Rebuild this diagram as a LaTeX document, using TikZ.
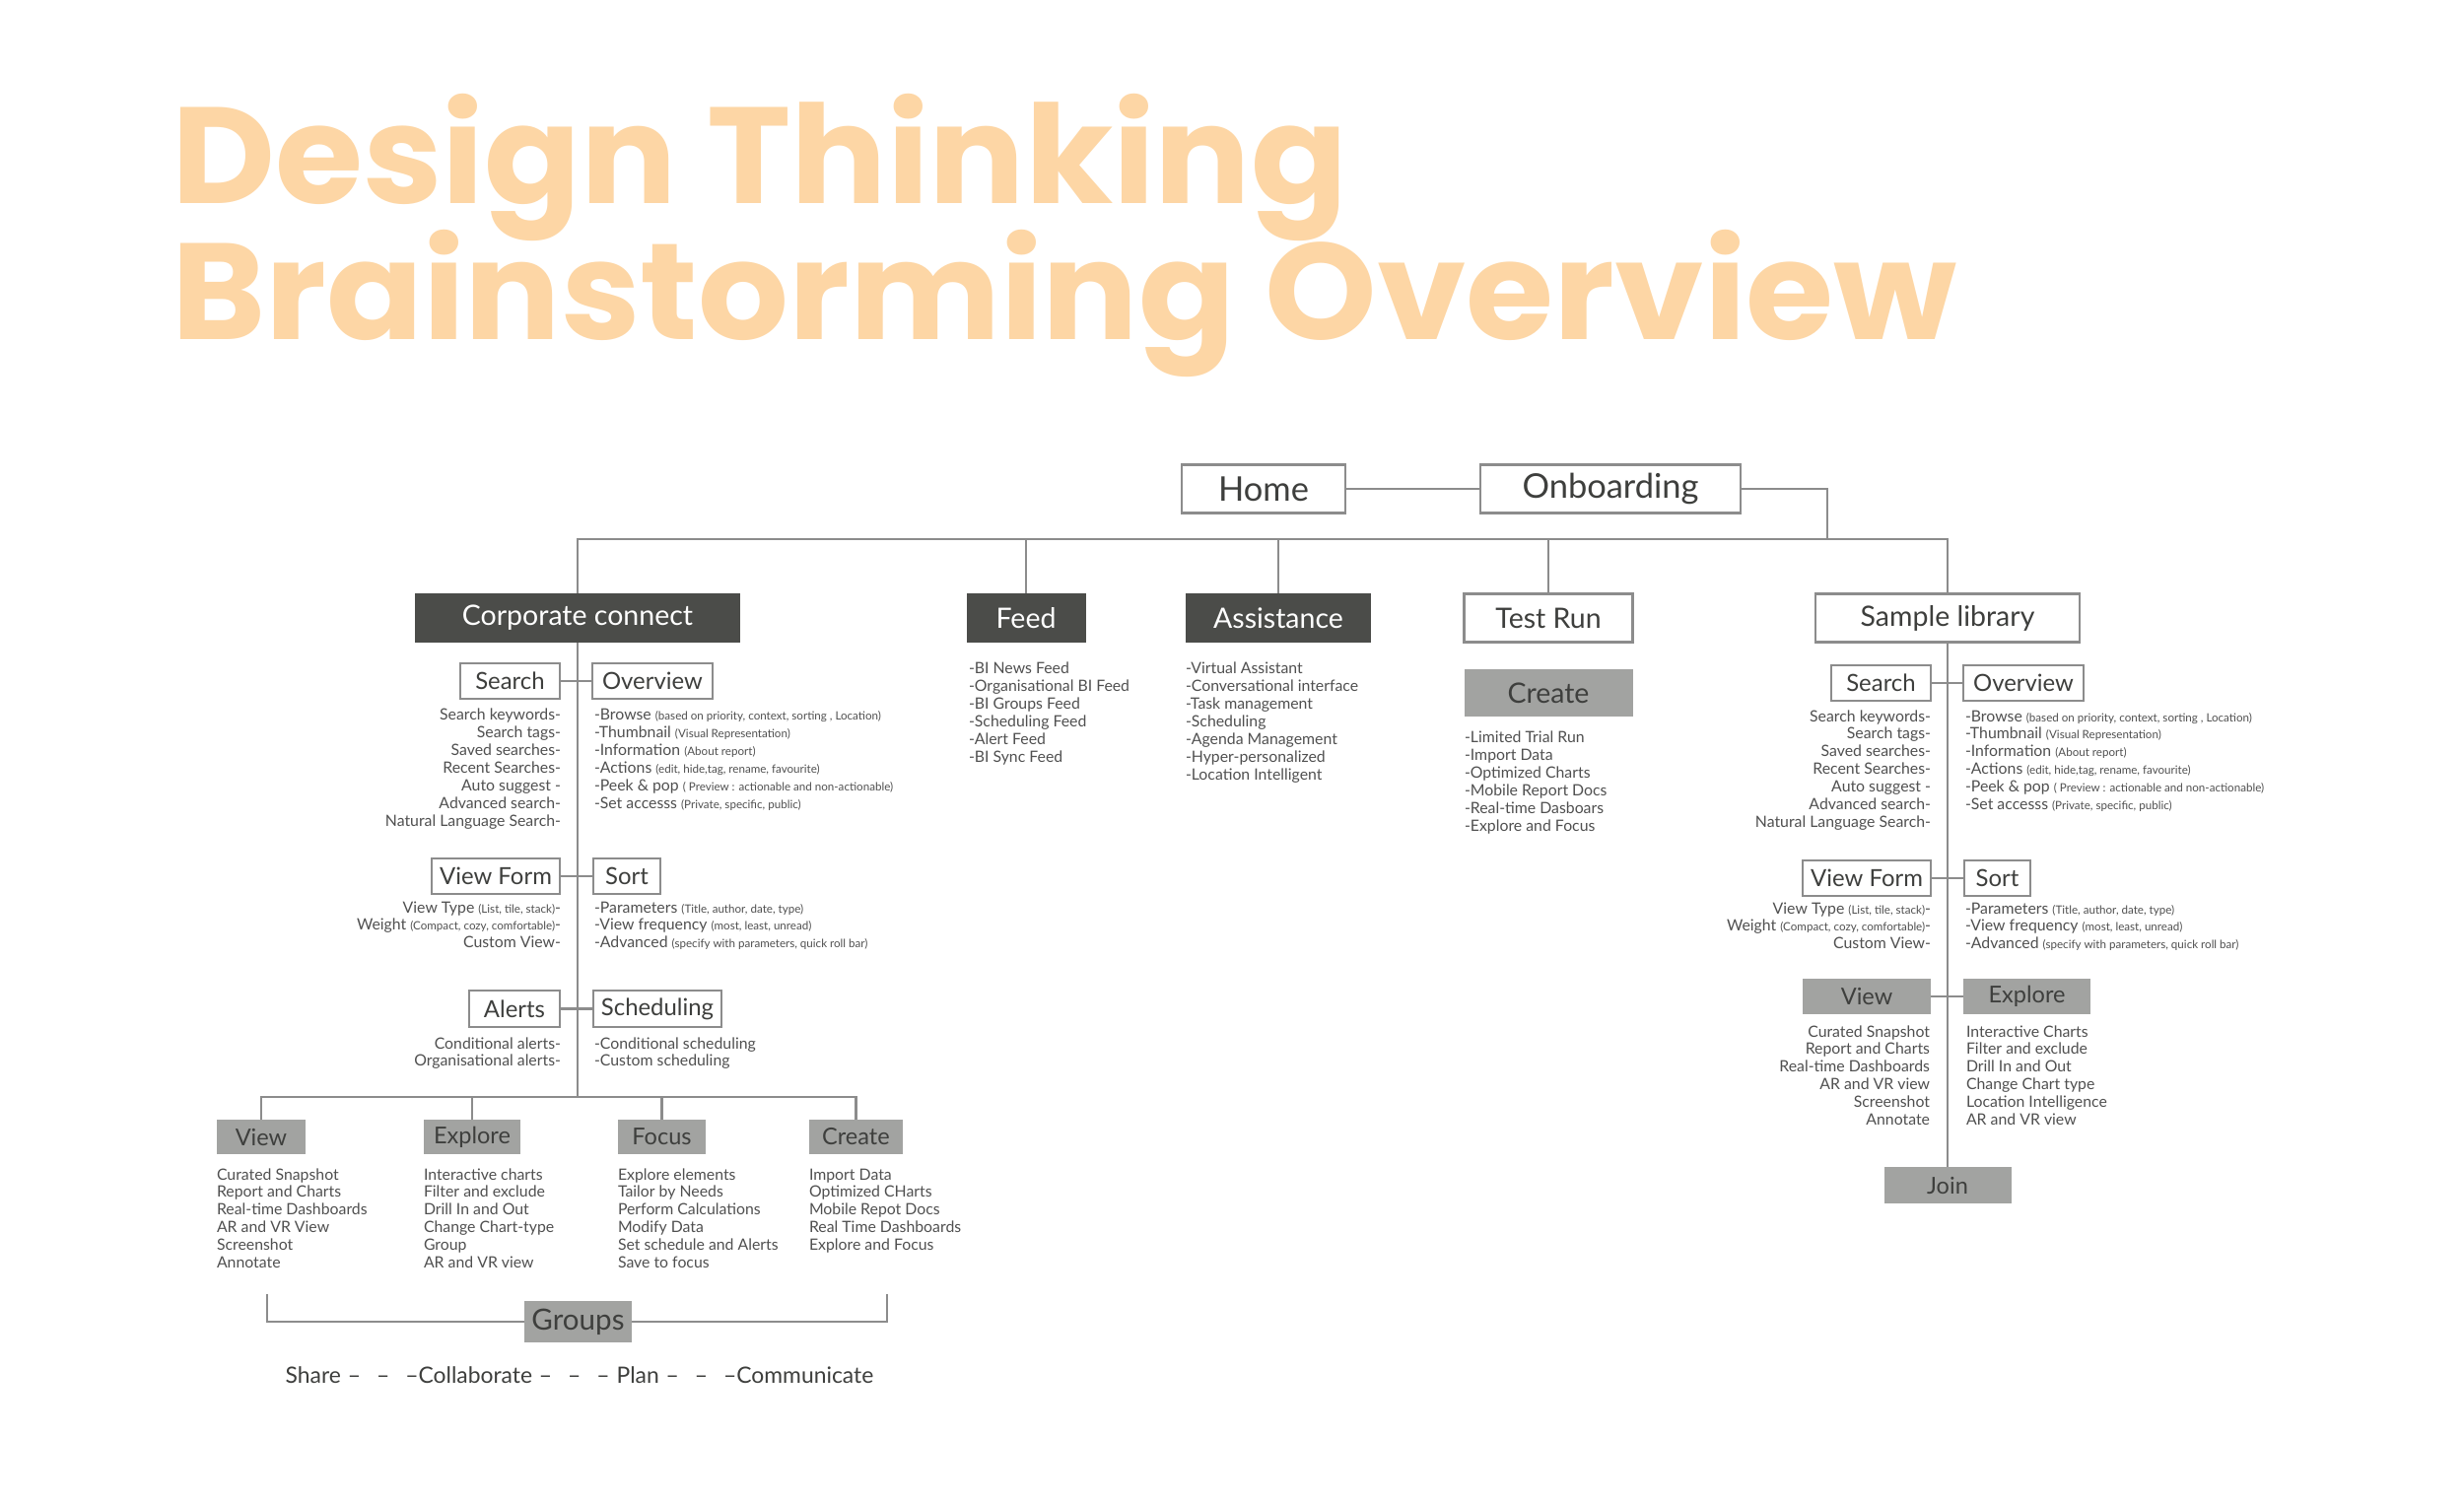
\documentclass[tikz,border=0pt]{standalone}
\usepackage{fontspec}
\setmainfont{Lato}
\newfontfamily\titlefont{Poppins}[FakeStretch=1.04]
\definecolor{titlec}{HTML}{FDD6A5}
\definecolor{darkf}{HTML}{4B4C49}
\definecolor{grayf}{HTML}{A2A3A1}
\definecolor{linec}{HTML}{8C8C8C}
\definecolor{labc}{HTML}{3E3F3D}
\definecolor{lstc}{HTML}{505050}
\newcommand\sm[1]{{\fontsize{3.3}{4}\selectfont #1}}
\newcommand\ddash{\hskip0.3em–\hskip0.7em–\hskip0.7em–}
\newcommand\lstlines[5]{%
  \foreach \t [count=\i from 0] in {#5} {%
    \node[lst, anchor=base #2] (#1-\i) at (#3, {#4+\i*17.85}) {\t};}}
\tikzset{
  every node/.style={inner sep=0pt, outer sep=0pt},
  ln/.style={draw=linec, line width=0.6pt},
  sz/.style 2 args={minimum width=#1*0.01cm, minimum height=#2*0.01cm},
  wbox/.style={draw=linec, line width=0.6pt, fill=white, text=labc},
  dbox/.style={fill=darkf, text=white},
  gbox/.style={fill=grayf, text=labc},
  fA/.style={font=\fontsize{9.8}{11}\selectfont},
  fB/.style={font=\fontsize{8.1}{9}\selectfont},
  fC/.style={font=\fontsize{6.8}{8}\selectfont},
  fD/.style={font=\fontsize{6.7}{8}\selectfont},
  lst/.style={font=\fontsize{4.5}{5}\selectfont, text=lstc},
  ttl/.style={font=\titlefont\bfseries\fontsize{39.5}{40}\selectfont, text=titlec, anchor=base west},
}
\begin{document}
\begin{tikzpicture}[x=0.01cm, y=-0.01cm]
\useasboundingbox[fill=white] (0,0) rectangle (2500,1528);

% title
\node[ttl] (t1) at (174,207) {Design Thinking};
\node[ttl] (t2) at (174,345) {Brainstorming Overview};

% top row
\node[wbox, fA, sz={166}{49}] (home) at (1282,496) {Home};
\node[wbox, fA, sz={264}{49}] (onb) at (1634,496) {Onboarding};
\coordinate (busL) at (586,547);
\coordinate (busR) at (1976,547);
\coordinate (onbdrop) at (1854,547);

% categories
\node[dbox, fB, sz={330}{50}] (cc) at (586,627) {Corporate connect};
\node[dbox, fB, sz={121}{50}] (feed) at (1041,627) {Feed};
\node[dbox, fB, sz={188}{50}] (asst) at (1297,627) {Assistance};
\node[wbox, fB, sz={171}{49}] (tr) at (1571,627) {Test Run};
\node[wbox, fB, sz={268}{49}] (sl) at (1976,627) {Sample library};
\node[gbox, fB, sz={171}{48}] (trc) at (1571,703) {Create};

\draw[ln] (home.east) -- (onb.west);
\draw[ln] (onb.east) -| (onbdrop);
\draw[ln] (cc.north) |- (busR) -- (sl.north);
\draw[ln] (feed.north) -- (feed.north |- busL);
\draw[ln] (asst.north) -- (asst.north |- busL);
\draw[ln] (tr.north) -- (tr.north |- busL);

\lstlines{feedl}{west}{983}{684}{-BI News Feed, -Organisational BI Feed, -BI Groups Feed, -Scheduling Feed, -Alert Feed, -BI Sync Feed}
\lstlines{asstl}{west}{1203}{684}{-Virtual Assistant, -Conversational interface, -Task management, -Scheduling, -Agenda Management, -Hyper-personalized, -Location Intelligent}
\lstlines{trcl}{west}{1486}{754}{-Limited Trial Run, -Import Data, -Optimized Charts, -Mobile Report Docs, -Real-time Dasboars, -Explore and Focus}

% corporate connect column
\coordinate (ccbus) at (586,1113);
\draw[ln] (cc.south) -- (ccbus);
\node[wbox, fC, sz={101}{36}] (cs) at (517.5,691) {Search};
\node[wbox, fC, sz={122}{36}] (co) at (662,691) {Overview};
\draw[ln] (cs.east) -- (co.west);
\lstlines{csl}{east}{569}{731}{Search keywords-, Search tags-, Saved searches-, Recent Searches-, Auto suggest -, Advanced search-, Natural Language Search-}
\lstlines{col}{west}{603}{731}{{-Browse \sm{(based on priority, context, sorting , Location)}}, {-Thumbnail \sm{(Visual Representation)}}, {-Information \sm{(About report)}}, {-Actions \sm{(edit, hide,tag, rename, favourite)}}, {-Peek \& pop \sm{( Preview : actionable and non-actionable)}}, {-Set accesss \sm{(Private, specific, public)}}}

\node[wbox, fC, sz={130}{36}] (cvf) at (503,889) {View Form};
\node[wbox, fC, sz={68}{36}] (cso) at (636,889) {Sort};
\draw[ln] (cvf.east) -- (cso.west);
\lstlines{cvfl}{east}{569}{926}{{View Type \sm{(List, tile, stack)}-}, {Weight \sm{(Compact, cozy, comfortable)}-}, Custom View-}
\lstlines{csol}{west}{603}{926}{{-Parameters \sm{(Title, author, date, type)}}, {-View frequency \sm{(most, least, unread)}}, {-Advanced \sm{(specify with parameters, quick roll bar)}}}

\node[wbox, fC, sz={92}{37}] (cal) at (522,1023.5) {Alerts};
\node[wbox, fC, sz={130}{37}] (csc) at (667,1023.5) {Scheduling};
\draw[ln] (cal.east) -- (csc.west);
\lstlines{call}{east}{569}{1064}{Conditional alerts-, Organisational alerts-}
\lstlines{cscl}{west}{603}{1064}{-Conditional scheduling, -Custom scheduling}

\node[gbox, fD, sz={90}{35}] (bv) at (265,1153.5) {View};
\node[gbox, fD, sz={98}{35}] (be) at (479,1153.5) {Explore};
\node[gbox, fD, sz={89}{35}] (bf) at (671.5,1153.5) {Focus};
\node[gbox, fD, sz={95}{35}] (bc) at (868.5,1153.5) {Create};
\draw[ln] (bv.north) |- (bc.north |- ccbus) -- (bc.north);
\draw[ln] (be.north) -- (be.north |- ccbus);
\draw[ln] (bf.north) -- (bf.north |- ccbus);
\lstlines{bvl}{west}{220}{1197}{Curated Snapshot, Report and Charts, Real-time Dashboards, AR and VR View, Screenshot, Annotate}
\lstlines{bel}{west}{430}{1197}{Interactive charts, Filter and exclude, Drill In and Out, Change Chart-type, Group, AR and VR view}
\lstlines{bfl}{west}{627}{1197}{Explore elements, Tailor by Needs, Perform Calculations, Modify Data, Set schedule and Alerts, Save to focus}
\lstlines{bcl}{west}{821}{1197}{Import Data, Optimized CHarts, Mobile Repot Docs, Real Time Dashboards, Explore and Focus}

\node[gbox, fB, font=\fontsize{8.4}{9}\selectfont, sz={109}{42}] (grp) at (586.5,1341) {Groups};
\coordinate (brL) at (271,1313);
\coordinate (brR) at (900,1313);
\draw[ln] (brL) |- (grp.west);
\draw[ln] (brR) |- (grp.east);
\node[font=\fontsize{6.5}{8}\selectfont, text=labc, anchor=base] (share) at (588,1403) {Share\ddash Collaborate\ddash\hskip0.3em Plan\ddash Communicate};

% sample library column
\node[wbox, fC, sz={101}{36}] (ss) at (1908.5,693) {Search};
\node[wbox, fC, sz={122}{36}] (so) at (2053,693) {Overview};
\node[wbox, fC, sz={130}{36}] (svf) at (1894,891) {View Form};
\node[wbox, fC, sz={67}{36}] (sso) at (2026.5,891) {Sort};
\node[gbox, fD, sz={130}{36}] (sv) at (1894,1011) {View};
\node[gbox, fD, sz={129}{36}] (se) at (2056.5,1011) {Explore};
\node[gbox, fD, sz={129}{37}] (join) at (1976,1202.5) {Join};
\draw[ln] (sl.south) -- (join.north);
\draw[ln] (ss.east) -- (so.west);
\draw[ln] (svf.east) -- (sso.west);
\draw[ln] (sv.east) -- (se.west);
\lstlines{ssl}{east}{1959}{732}{Search keywords-, Search tags-, Saved searches-, Recent Searches-, Auto suggest -, Advanced search-, Natural Language Search-}
\lstlines{sol}{west}{1994}{732}{{-Browse \sm{(based on priority, context, sorting , Location)}}, {-Thumbnail \sm{(Visual Representation)}}, {-Information \sm{(About report)}}, {-Actions \sm{(edit, hide,tag, rename, favourite)}}, {-Peek \& pop \sm{( Preview : actionable and non-actionable)}}, {-Set accesss \sm{(Private, specific, public)}}}
\lstlines{svfl}{east}{1959}{927}{{View Type \sm{(List, tile, stack)}-}, {Weight \sm{(Compact, cozy, comfortable)}-}, Custom View-}
\lstlines{ssol}{west}{1994}{927}{{-Parameters \sm{(Title, author, date, type)}}, {-View frequency \sm{(most, least, unread)}}, {-Advanced \sm{(specify with parameters, quick roll bar)}}}
\lstlines{svl}{east}{1958}{1052}{Curated Snapshot, Report and Charts, Real-time Dashboards, AR and VR view, Screenshot, Annotate}
\lstlines{sel}{west}{1995}{1052}{Interactive Charts, Filter and exclude, Drill In and Out, Change Chart type, Location Intelligence, AR and VR view}
\end{tikzpicture}
\end{document}
